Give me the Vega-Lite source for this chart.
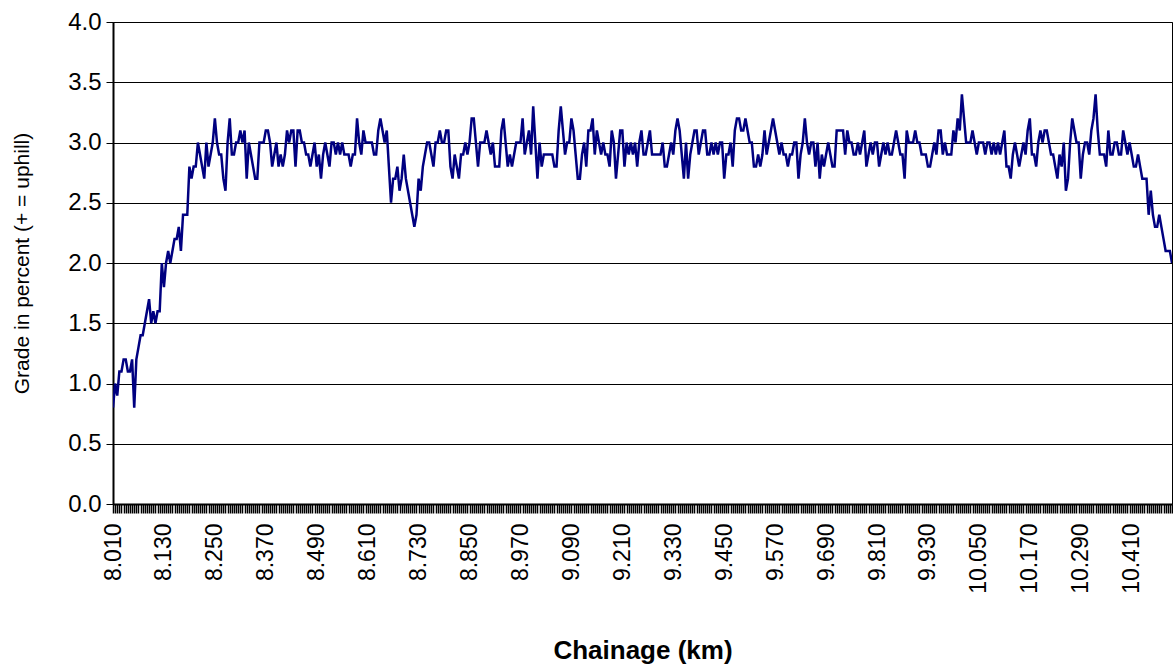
{
"$schema": "https://vega.github.io/schema/vega-lite/v6.json",
"width": 1059,
"height": 482,
"autosize": {"type": "none"},
"padding": {"left": 113, "top": 22, "right": 1, "bottom": 160},
"background": "#ffffff",
"config": {"view": {"stroke": "#000000", "strokeWidth": 1}, "font": "Liberation Sans"},
"data": {"values": [
{"km":8.010,"grade":0.8},{"km":8.015,"grade":1.0},{"km":8.020,"grade":0.9},{"km":8.025,"grade":1.1},{"km":8.030,"grade":1.1},{"km":8.035,"grade":1.2},{"km":8.040,"grade":1.2},{"km":8.045,"grade":1.1},{"km":8.050,"grade":1.1},{"km":8.055,"grade":1.2},
{"km":8.060,"grade":0.8},{"km":8.065,"grade":1.2},{"km":8.070,"grade":1.3},{"km":8.075,"grade":1.4},{"km":8.080,"grade":1.4},{"km":8.085,"grade":1.5},{"km":8.090,"grade":1.6},{"km":8.095,"grade":1.7},{"km":8.100,"grade":1.5},{"km":8.105,"grade":1.6},
{"km":8.110,"grade":1.5},{"km":8.115,"grade":1.6},{"km":8.120,"grade":1.6},{"km":8.125,"grade":2.0},{"km":8.130,"grade":1.8},{"km":8.135,"grade":2.0},{"km":8.140,"grade":2.1},{"km":8.145,"grade":2.0},{"km":8.150,"grade":2.1},{"km":8.155,"grade":2.2},
{"km":8.160,"grade":2.2},{"km":8.165,"grade":2.3},{"km":8.170,"grade":2.1},{"km":8.175,"grade":2.4},{"km":8.180,"grade":2.4},{"km":8.185,"grade":2.4},{"km":8.190,"grade":2.8},{"km":8.195,"grade":2.7},{"km":8.200,"grade":2.8},{"km":8.205,"grade":2.8},
{"km":8.210,"grade":3.0},{"km":8.215,"grade":2.9},{"km":8.220,"grade":2.8},{"km":8.225,"grade":2.7},{"km":8.230,"grade":3.0},{"km":8.235,"grade":2.8},{"km":8.240,"grade":2.9},{"km":8.245,"grade":3.0},{"km":8.250,"grade":3.2},{"km":8.255,"grade":3.0},
{"km":8.260,"grade":2.9},{"km":8.265,"grade":2.9},{"km":8.270,"grade":2.7},{"km":8.275,"grade":2.6},{"km":8.280,"grade":3.0},{"km":8.285,"grade":3.2},{"km":8.290,"grade":2.9},{"km":8.295,"grade":2.9},{"km":8.300,"grade":3.0},{"km":8.305,"grade":3.0},
{"km":8.310,"grade":3.1},{"km":8.315,"grade":3.0},{"km":8.320,"grade":3.1},{"km":8.325,"grade":2.7},{"km":8.330,"grade":3.0},{"km":8.335,"grade":2.9},{"km":8.340,"grade":2.8},{"km":8.345,"grade":2.7},{"km":8.350,"grade":2.7},{"km":8.355,"grade":3.0},
{"km":8.360,"grade":3.0},{"km":8.365,"grade":3.0},{"km":8.370,"grade":3.1},{"km":8.375,"grade":3.1},{"km":8.380,"grade":3.0},{"km":8.385,"grade":2.8},{"km":8.390,"grade":2.9},{"km":8.395,"grade":3.0},{"km":8.400,"grade":2.8},{"km":8.405,"grade":2.9},
{"km":8.410,"grade":2.8},{"km":8.415,"grade":2.9},{"km":8.420,"grade":3.1},{"km":8.425,"grade":3.0},{"km":8.430,"grade":3.1},{"km":8.435,"grade":3.1},{"km":8.440,"grade":2.8},{"km":8.445,"grade":3.1},{"km":8.450,"grade":3.1},{"km":8.455,"grade":3.0},
{"km":8.460,"grade":3.0},{"km":8.465,"grade":2.9},{"km":8.470,"grade":2.9},{"km":8.475,"grade":2.8},{"km":8.480,"grade":2.9},{"km":8.485,"grade":3.0},{"km":8.490,"grade":2.8},{"km":8.495,"grade":2.9},{"km":8.500,"grade":2.7},{"km":8.505,"grade":2.9},
{"km":8.510,"grade":3.0},{"km":8.515,"grade":2.9},{"km":8.520,"grade":2.8},{"km":8.525,"grade":3.0},{"km":8.530,"grade":3.0},{"km":8.535,"grade":2.9},{"km":8.540,"grade":3.0},{"km":8.545,"grade":2.9},{"km":8.550,"grade":3.0},{"km":8.555,"grade":2.9},
{"km":8.560,"grade":2.9},{"km":8.565,"grade":2.9},{"km":8.570,"grade":2.8},{"km":8.575,"grade":2.9},{"km":8.580,"grade":2.9},{"km":8.585,"grade":3.2},{"km":8.590,"grade":3.0},{"km":8.595,"grade":2.9},{"km":8.600,"grade":3.1},{"km":8.605,"grade":3.0},
{"km":8.610,"grade":3.0},{"km":8.615,"grade":3.0},{"km":8.620,"grade":3.0},{"km":8.625,"grade":2.9},{"km":8.630,"grade":2.9},{"km":8.635,"grade":3.1},{"km":8.640,"grade":3.2},{"km":8.645,"grade":3.1},{"km":8.650,"grade":3.0},{"km":8.655,"grade":3.1},
{"km":8.660,"grade":2.8},{"km":8.665,"grade":2.5},{"km":8.670,"grade":2.7},{"km":8.675,"grade":2.7},{"km":8.680,"grade":2.8},{"km":8.685,"grade":2.6},{"km":8.690,"grade":2.7},{"km":8.695,"grade":2.9},{"km":8.700,"grade":2.7},{"km":8.705,"grade":2.6},
{"km":8.710,"grade":2.5},{"km":8.715,"grade":2.4},{"km":8.720,"grade":2.3},{"km":8.725,"grade":2.4},{"km":8.730,"grade":2.7},{"km":8.735,"grade":2.6},{"km":8.740,"grade":2.8},{"km":8.745,"grade":2.9},{"km":8.750,"grade":3.0},{"km":8.755,"grade":3.0},
{"km":8.760,"grade":2.9},{"km":8.765,"grade":2.8},{"km":8.770,"grade":3.0},{"km":8.775,"grade":3.0},{"km":8.780,"grade":3.1},{"km":8.785,"grade":3.0},{"km":8.790,"grade":3.0},{"km":8.795,"grade":3.1},{"km":8.800,"grade":3.1},{"km":8.805,"grade":2.8},
{"km":8.810,"grade":2.7},{"km":8.815,"grade":2.9},{"km":8.820,"grade":2.8},{"km":8.825,"grade":2.7},{"km":8.830,"grade":2.9},{"km":8.835,"grade":2.9},{"km":8.840,"grade":3.0},{"km":8.845,"grade":2.9},{"km":8.850,"grade":3.0},{"km":8.855,"grade":3.2},
{"km":8.860,"grade":3.2},{"km":8.865,"grade":3.0},{"km":8.870,"grade":2.8},{"km":8.875,"grade":3.0},{"km":8.880,"grade":3.0},{"km":8.885,"grade":3.0},{"km":8.890,"grade":3.1},{"km":8.895,"grade":3.0},{"km":8.900,"grade":2.9},{"km":8.905,"grade":3.0},
{"km":8.910,"grade":2.8},{"km":8.915,"grade":2.8},{"km":8.920,"grade":2.8},{"km":8.925,"grade":3.1},{"km":8.930,"grade":3.2},{"km":8.935,"grade":3.0},{"km":8.940,"grade":2.8},{"km":8.945,"grade":2.9},{"km":8.950,"grade":2.8},{"km":8.955,"grade":2.9},
{"km":8.960,"grade":3.0},{"km":8.965,"grade":3.0},{"km":8.970,"grade":3.0},{"km":8.975,"grade":3.2},{"km":8.980,"grade":2.9},{"km":8.985,"grade":3.0},{"km":8.990,"grade":3.1},{"km":8.995,"grade":2.9},{"km":9.000,"grade":3.3},{"km":9.005,"grade":3.0},
{"km":9.010,"grade":2.7},{"km":9.015,"grade":3.0},{"km":9.020,"grade":2.8},{"km":9.025,"grade":2.9},{"km":9.030,"grade":2.9},{"km":9.035,"grade":2.9},{"km":9.040,"grade":2.9},{"km":9.045,"grade":2.9},{"km":9.050,"grade":2.8},{"km":9.055,"grade":2.8},
{"km":9.060,"grade":3.1},{"km":9.065,"grade":3.3},{"km":9.070,"grade":3.1},{"km":9.075,"grade":2.9},{"km":9.080,"grade":3.0},{"km":9.085,"grade":3.0},{"km":9.090,"grade":3.2},{"km":9.095,"grade":3.1},{"km":9.100,"grade":2.9},{"km":9.105,"grade":2.7},
{"km":9.110,"grade":2.7},{"km":9.115,"grade":2.9},{"km":9.120,"grade":3.0},{"km":9.125,"grade":2.8},{"km":9.130,"grade":3.1},{"km":9.135,"grade":3.1},{"km":9.140,"grade":3.2},{"km":9.145,"grade":2.9},{"km":9.150,"grade":3.1},{"km":9.155,"grade":3.0},
{"km":9.160,"grade":2.9},{"km":9.165,"grade":3.0},{"km":9.170,"grade":2.9},{"km":9.175,"grade":2.9},{"km":9.180,"grade":2.8},{"km":9.185,"grade":3.1},{"km":9.190,"grade":3.0},{"km":9.195,"grade":2.7},{"km":9.200,"grade":2.9},{"km":9.205,"grade":3.1},
{"km":9.210,"grade":3.1},{"km":9.215,"grade":2.8},{"km":9.220,"grade":3.0},{"km":9.225,"grade":2.9},{"km":9.230,"grade":3.0},{"km":9.235,"grade":2.9},{"km":9.240,"grade":3.0},{"km":9.245,"grade":2.8},{"km":9.250,"grade":3.0},{"km":9.255,"grade":3.1},
{"km":9.260,"grade":2.9},{"km":9.265,"grade":2.9},{"km":9.270,"grade":3.0},{"km":9.275,"grade":3.1},{"km":9.280,"grade":2.9},{"km":9.285,"grade":2.9},{"km":9.290,"grade":2.9},{"km":9.295,"grade":2.9},{"km":9.300,"grade":2.9},{"km":9.305,"grade":3.0},
{"km":9.310,"grade":2.8},{"km":9.315,"grade":2.8},{"km":9.320,"grade":2.9},{"km":9.325,"grade":3.0},{"km":9.330,"grade":2.9},{"km":9.335,"grade":3.1},{"km":9.340,"grade":3.2},{"km":9.345,"grade":3.1},{"km":9.350,"grade":2.9},{"km":9.355,"grade":2.7},
{"km":9.360,"grade":3.0},{"km":9.365,"grade":2.7},{"km":9.370,"grade":2.9},{"km":9.375,"grade":3.0},{"km":9.380,"grade":3.1},{"km":9.385,"grade":3.1},{"km":9.390,"grade":2.9},{"km":9.395,"grade":3.0},{"km":9.400,"grade":3.1},{"km":9.405,"grade":3.1},
{"km":9.410,"grade":2.9},{"km":9.415,"grade":2.9},{"km":9.420,"grade":3.0},{"km":9.425,"grade":2.9},{"km":9.430,"grade":3.0},{"km":9.435,"grade":2.9},{"km":9.440,"grade":3.0},{"km":9.445,"grade":3.0},{"km":9.450,"grade":2.7},{"km":9.455,"grade":2.9},
{"km":9.460,"grade":2.9},{"km":9.465,"grade":3.0},{"km":9.470,"grade":2.8},{"km":9.475,"grade":3.1},{"km":9.480,"grade":3.2},{"km":9.485,"grade":3.2},{"km":9.490,"grade":3.1},{"km":9.495,"grade":3.1},{"km":9.500,"grade":3.2},{"km":9.505,"grade":3.1},
{"km":9.510,"grade":3.0},{"km":9.515,"grade":3.0},{"km":9.520,"grade":2.8},{"km":9.525,"grade":2.8},{"km":9.530,"grade":2.9},{"km":9.535,"grade":2.8},{"km":9.540,"grade":2.9},{"km":9.545,"grade":3.1},{"km":9.550,"grade":2.9},{"km":9.555,"grade":3.0},
{"km":9.560,"grade":3.1},{"km":9.565,"grade":3.2},{"km":9.570,"grade":3.1},{"km":9.575,"grade":3.0},{"km":9.580,"grade":2.9},{"km":9.585,"grade":3.0},{"km":9.590,"grade":2.9},{"km":9.595,"grade":2.9},{"km":9.600,"grade":2.8},{"km":9.605,"grade":2.9},
{"km":9.610,"grade":2.9},{"km":9.615,"grade":3.0},{"km":9.620,"grade":3.0},{"km":9.625,"grade":2.7},{"km":9.630,"grade":2.9},{"km":9.635,"grade":3.0},{"km":9.640,"grade":3.2},{"km":9.645,"grade":3.0},{"km":9.650,"grade":2.9},{"km":9.655,"grade":3.0},
{"km":9.660,"grade":3.0},{"km":9.665,"grade":2.8},{"km":9.670,"grade":3.0},{"km":9.675,"grade":2.7},{"km":9.680,"grade":2.9},{"km":9.685,"grade":2.8},{"km":9.690,"grade":2.9},{"km":9.695,"grade":3.0},{"km":9.700,"grade":2.9},{"km":9.705,"grade":2.8},
{"km":9.710,"grade":2.8},{"km":9.715,"grade":3.1},{"km":9.720,"grade":3.1},{"km":9.725,"grade":3.1},{"km":9.730,"grade":3.1},{"km":9.735,"grade":2.9},{"km":9.740,"grade":3.1},{"km":9.745,"grade":3.0},{"km":9.750,"grade":3.0},{"km":9.755,"grade":2.9},
{"km":9.760,"grade":2.9},{"km":9.765,"grade":3.0},{"km":9.770,"grade":2.9},{"km":9.775,"grade":3.0},{"km":9.780,"grade":3.1},{"km":9.785,"grade":2.8},{"km":9.790,"grade":2.9},{"km":9.795,"grade":3.0},{"km":9.800,"grade":2.9},{"km":9.805,"grade":3.0},
{"km":9.810,"grade":3.0},{"km":9.815,"grade":2.8},{"km":9.820,"grade":2.9},{"km":9.825,"grade":3.0},{"km":9.830,"grade":2.9},{"km":9.835,"grade":3.0},{"km":9.840,"grade":2.9},{"km":9.845,"grade":2.9},{"km":9.850,"grade":3.0},{"km":9.855,"grade":3.1},
{"km":9.860,"grade":3.0},{"km":9.865,"grade":2.9},{"km":9.870,"grade":2.9},{"km":9.875,"grade":2.7},{"km":9.880,"grade":3.1},{"km":9.885,"grade":3.0},{"km":9.890,"grade":3.0},{"km":9.895,"grade":3.0},{"km":9.900,"grade":3.1},{"km":9.905,"grade":3.0},
{"km":9.910,"grade":3.0},{"km":9.915,"grade":2.9},{"km":9.920,"grade":2.9},{"km":9.925,"grade":2.9},{"km":9.930,"grade":2.8},{"km":9.935,"grade":2.8},{"km":9.940,"grade":2.9},{"km":9.945,"grade":3.0},{"km":9.950,"grade":2.9},{"km":9.955,"grade":3.1},
{"km":9.960,"grade":3.1},{"km":9.965,"grade":2.9},{"km":9.970,"grade":3.0},{"km":9.975,"grade":2.9},{"km":9.980,"grade":2.9},{"km":9.985,"grade":2.9},{"km":9.990,"grade":3.1},{"km":9.995,"grade":3.0},{"km":10.000,"grade":3.2},{"km":10.005,"grade":3.1},
{"km":10.010,"grade":3.4},{"km":10.015,"grade":3.2},{"km":10.020,"grade":3.0},{"km":10.025,"grade":3.0},{"km":10.030,"grade":3.0},{"km":10.035,"grade":3.1},{"km":10.040,"grade":3.0},{"km":10.045,"grade":2.9},{"km":10.050,"grade":3.0},{"km":10.055,"grade":3.0},
{"km":10.060,"grade":3.0},{"km":10.065,"grade":2.9},{"km":10.070,"grade":3.0},{"km":10.075,"grade":3.0},{"km":10.080,"grade":2.9},{"km":10.085,"grade":3.0},{"km":10.090,"grade":2.9},{"km":10.095,"grade":3.0},{"km":10.100,"grade":2.9},{"km":10.105,"grade":3.0},
{"km":10.110,"grade":3.1},{"km":10.115,"grade":2.8},{"km":10.120,"grade":2.8},{"km":10.125,"grade":2.7},{"km":10.130,"grade":2.9},{"km":10.135,"grade":3.0},{"km":10.140,"grade":2.9},{"km":10.145,"grade":2.8},{"km":10.150,"grade":2.9},{"km":10.155,"grade":3.0},
{"km":10.160,"grade":2.9},{"km":10.165,"grade":3.1},{"km":10.170,"grade":3.2},{"km":10.175,"grade":2.9},{"km":10.180,"grade":2.9},{"km":10.185,"grade":2.8},{"km":10.190,"grade":3.0},{"km":10.195,"grade":3.1},{"km":10.200,"grade":3.0},{"km":10.205,"grade":3.1},
{"km":10.210,"grade":3.1},{"km":10.215,"grade":3.0},{"km":10.220,"grade":2.9},{"km":10.225,"grade":2.9},{"km":10.230,"grade":2.8},{"km":10.235,"grade":2.7},{"km":10.240,"grade":2.9},{"km":10.245,"grade":2.8},{"km":10.250,"grade":3.0},{"km":10.255,"grade":2.6},
{"km":10.260,"grade":2.7},{"km":10.265,"grade":3.0},{"km":10.270,"grade":3.2},{"km":10.275,"grade":3.1},{"km":10.280,"grade":3.0},{"km":10.285,"grade":3.0},{"km":10.290,"grade":2.7},{"km":10.295,"grade":2.9},{"km":10.300,"grade":3.0},{"km":10.305,"grade":3.0},
{"km":10.310,"grade":2.9},{"km":10.315,"grade":3.1},{"km":10.320,"grade":3.2},{"km":10.325,"grade":3.4},{"km":10.330,"grade":3.1},{"km":10.335,"grade":2.9},{"km":10.340,"grade":2.9},{"km":10.345,"grade":2.9},{"km":10.350,"grade":2.8},{"km":10.355,"grade":3.1},
{"km":10.360,"grade":2.9},{"km":10.365,"grade":2.9},{"km":10.370,"grade":3.0},{"km":10.375,"grade":3.0},{"km":10.380,"grade":2.9},{"km":10.385,"grade":2.9},{"km":10.390,"grade":3.1},{"km":10.395,"grade":3.0},{"km":10.400,"grade":2.9},{"km":10.405,"grade":3.0},
{"km":10.410,"grade":2.9},{"km":10.415,"grade":2.8},{"km":10.420,"grade":2.8},{"km":10.425,"grade":2.9},{"km":10.430,"grade":2.8},{"km":10.435,"grade":2.7},{"km":10.440,"grade":2.7},{"km":10.445,"grade":2.7},{"km":10.450,"grade":2.4},{"km":10.455,"grade":2.6},
{"km":10.460,"grade":2.4},{"km":10.465,"grade":2.3},{"km":10.470,"grade":2.3},{"km":10.475,"grade":2.4},{"km":10.480,"grade":2.3},{"km":10.485,"grade":2.2},{"km":10.490,"grade":2.1},{"km":10.495,"grade":2.1},{"km":10.500,"grade":2.1},{"km":10.505,"grade":2.0}
]},
"mark": {"type": "line", "color": "#000080", "strokeWidth": 2.5, "clip": true},
"encoding": {
  "x": {
    "field": "km", "type": "quantitative",
    "scale": {"domain": [8.01, 10.505], "nice": false, "zero": false},
    "axis": {
      "title": "Chainage (km)",
      "tickCount": 500,
      "ticks": true,
      "labelExpr": "(round((datum.value - 8.01) / 0.005) % 24 == 0) ? format(datum.value, '.3f') : ''",
      "labelAngle": 270,
      "labelAlign": "right",
      "labelBaseline": "middle",
      "labelOverlap": false,
      "labelBound": false,
      "labelFlush": false,
      "labelFont": "Liberation Sans",
      "labelFontSize": 23,
      "labelColor": "#000000",
      "labelPadding": 10,
      "tickSize": 9,
      "tickColor": "#000000",
      "tickWidth": 1.5,
      "tickOpacity": 1,
      "domainColor": "#000000",
      "domainWidth": 2,
      "grid": false,
      "titleFont": "Liberation Sans",
      "titleFontSize": 26,
      "titleFontWeight": "bold",
      "titleColor": "#000000",
      "titleY": 146,
      "titleBaseline": "middle"
    }
  },
  "y": {
    "field": "grade", "type": "quantitative",
    "scale": {"domain": [0, 4], "nice": false, "zero": true},
    "axis": {
      "title": "Grade in percent (+ = uphill)",
      "values": [0, 0.5, 1, 1.5, 2, 2.5, 3, 3.5, 4],
      "format": ".1f",
      "grid": true,
      "gridColor": "#000000",
      "gridWidth": 1,
      "labelFont": "Liberation Sans",
      "labelFontSize": 24,
      "labelColor": "#000000",
      "labelPadding": 5,
      "labelFlush": false,
      "labelBound": false,
      "tickSize": 7,
      "tickColor": "#000000",
      "domainColor": "#000000",
      "domainWidth": 2,
      "titleFont": "Liberation Sans",
      "titleFontSize": 21,
      "titleFontWeight": "normal",
      "titleColor": "#000000",
      "titleAngle": 270,
      "titleX": -91,
      "titleY": 241,
      "titleAlign": "center",
      "titleBaseline": "middle"
    }
  }
}
}
